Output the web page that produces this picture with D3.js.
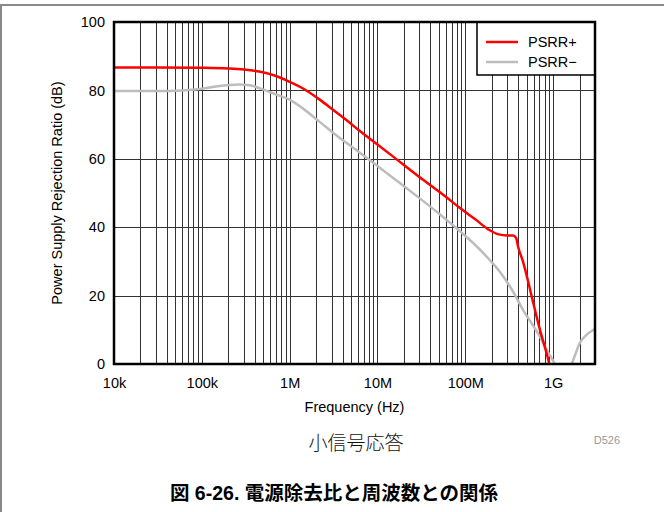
<!DOCTYPE html>
<html>
<head>
<meta charset="utf-8">
<script src="https://cdn.jsdelivr.net/npm/d3@7"></script>
<style>
  html, body { margin: 0; padding: 0; background: #fff; }
  svg { display: block; }
</style>
</head>
<body>
<svg id="chart" width="664" height="512"></svg>
<script>
// ---- data ----
const psrrPlusFreq = [1e4, 3e4, 1e5, 2e5, 3e5, 4.5e5, 7e5, 1e6, 1.5e6, 2.2e6, 3.2e6, 4.5e6, 6.3e6, 1e7, 1.8e7, 3e7, 6e7, 8.7e7, 1.3e8, 1.9e8, 2.4e8, 3e8, 3.5e8, 3.8e8, 4.0e8, 4.5e8, 5.85e8, 7e8, 9e8, 1e9];
const psrrPlusDb   = [86.7, 86.7, 86.6, 86.4, 86.1, 85.5, 84.2, 82.5, 80.2, 77.3, 74.1, 71.2, 68.1, 64.2, 59.1, 54.7, 48.9, 45.6, 42.3, 39.1, 37.9, 37.6, 37.6, 36.8, 34.2, 30.3, 18.6, 10.5, 0.3, -5];
const psrrMinusFreq = [1e4, 3e4, 6e4, 1e5, 1.5e5, 2.7e5, 3.5e5, 4.6e5, 7e5, 1e6, 1.3e6, 2.2e6, 3.2e6, 6.3e6, 1e7, 1.8e7, 2.65e7, 5e7, 8.7e7, 1.3e8, 1.9e8, 2.4e8, 3.2e8, 3.66e8, 4.5e8, 5.5e8, 6.9e8, 8.5e8, 1.03e9, 1.15e9, 1.3e9, 1.5e9, 1.66e9, 1.8e9, 2.0e9, 2.4e9, 2.8e9, 3e9];
const psrrMinusDb   = [79.8, 79.8, 80, 80.5, 81.2, 81.7, 81.5, 80.6, 78.8, 77.3, 75.4, 70.8, 67.4, 61.8, 57.9, 52.9, 49.6, 44, 38.8, 34.8, 30.4, 27.4, 22.8, 20.3, 16, 12.5, 8.5, 4, 0.3, -3, -5, -2, 0.5, 3, 6, 8.5, 9.8, 10.2];
const xTickValues = [1e4, 1e5, 1e6, 1e7, 1e8, 1e9];
const xTickLabels = ["10k", "100k", "1M", "10M", "100M", "1G"];
const yTickValues = [0, 20, 40, 60, 80, 100];
const seriesNames = ["PSRR+", "PSRR\u2212"];
const seriesColors = ["#ff0000", "#bdbdbd"];

// ---- layout ----
const svg = d3.select("#chart");
const L = 114, R = 595, T = 22, B = 364;
const x = d3.scaleLog().domain([1e4, 3e9]).range([L, R]);
const y = d3.scaleLinear().domain([0, 100]).range([B, T]);

// outer frame
svg.append("line").attr("x1", 0).attr("x2", 664).attr("y1", 5).attr("y2", 5)
  .attr("stroke", "#8a8a8a").attr("stroke-width", 2);
svg.append("line").attr("x1", 1).attr("x2", 1).attr("y1", 5).attr("y2", 512)
  .attr("stroke", "#8a8a8a").attr("stroke-width", 2);

// clip
svg.append("defs").append("clipPath").attr("id", "plotclip")
  .append("rect").attr("x", L).attr("y", T).attr("width", R - L).attr("height", B - T);

// vertical grid (log minor)
const minor = [];
for (let d = 1e4; d < 3e9; d *= 10) {
  for (let m = 1; m <= 9; m++) {
    const v = d * m;
    if (v > 1e4 && v < 3e9) minor.push(v);
  }
}
const grid = svg.append("g");
grid.selectAll("line.v").data(minor).join("line")
  .attr("class", "v")
  .attr("x1", d => Math.round(x(d)) + 0.5).attr("x2", d => Math.round(x(d)) + 0.5)
  .attr("y1", T).attr("y2", B)
  .attr("stroke", "#333").attr("stroke-width", 1);
grid.selectAll("line.h").data([20, 40, 60, 80]).join("line")
  .attr("class", "h")
  .attr("x1", L).attr("x2", R)
  .attr("y1", d => Math.round(y(d)) + 0.5).attr("y2", d => Math.round(y(d)) + 0.5)
  .attr("stroke", "#333").attr("stroke-width", 1);

// curves
const lineGen = d3.line().x(d => x(d[0])).y(d => y(d[1])).curve(d3.curveMonotoneX);
const series = [
  d3.zip(psrrMinusFreq, psrrMinusDb),
  d3.zip(psrrPlusFreq, psrrPlusDb)
];
const colorsDraw = [seriesColors[1], seriesColors[0]];
const curves = svg.append("g").attr("clip-path", "url(#plotclip)");
series.forEach((s, i) => {
  curves.append("path").datum(s).attr("d", lineGen)
    .attr("fill", "none").attr("stroke", colorsDraw[i]).attr("stroke-width", 2.5)
    .attr("stroke-linejoin", "round");
});

// legend
const lg = svg.append("g");
lg.append("rect").attr("x", 477).attr("y", T).attr("width", R - 477).attr("height", 53)
  .attr("fill", "#fff").attr("stroke", "#000").attr("stroke-width", 1.5);
seriesNames.forEach((n, i) => {
  const yy = 42 + i * 20;
  lg.append("line").attr("x1", 486).attr("x2", 518).attr("y1", yy).attr("y2", yy)
    .attr("stroke", seriesColors[i]).attr("stroke-width", 2.5);
  lg.append("text").attr("x", 528).attr("y", yy + 5).text(n)
    .attr("font-family", "Liberation Sans, Arial, sans-serif").attr("font-size", 14.5).attr("fill", "#000");
});

// plot frame
svg.append("rect").attr("x", L).attr("y", T).attr("width", R - L).attr("height", B - T)
  .attr("fill", "none").attr("stroke", "#000").attr("stroke-width", 2.5);

// axes
const xAxis = d3.axisBottom(x).tickValues(xTickValues)
  .tickFormat((d, i) => xTickLabels[i]).tickSize(0).tickPadding(14);
const gx = svg.append("g").attr("transform", `translate(0,${B})`).call(xAxis);
gx.select(".domain").remove();
gx.selectAll("text").attr("font-family", "Liberation Sans, Arial, sans-serif")
  .attr("font-size", 14.5).attr("fill", "#000");

const yAxis = d3.axisLeft(y).tickValues(yTickValues).tickSize(0).tickPadding(9);
const gy = svg.append("g").attr("transform", `translate(${L},0)`).call(yAxis);
gy.select(".domain").remove();
gy.selectAll("text").attr("font-family", "Liberation Sans, Arial, sans-serif")
  .attr("font-size", 14.5).attr("fill", "#000");

// axis titles
svg.append("text").attr("x", (L + R) / 2).attr("y", 412).attr("text-anchor", "middle")
  .attr("font-family", "Liberation Sans, Arial, sans-serif").attr("font-size", 14.5)
  .text("Frequency (Hz)");
svg.append("text").attr("transform", `translate(62,${(T + B) / 2}) rotate(-90)`)
  .attr("text-anchor", "middle")
  .attr("font-family", "Liberation Sans, Arial, sans-serif").attr("font-size", 14.5)
  .text("Power Supply Rejection Ratio (dB)");

svg.append("text").attr("x", 620).attr("y", 444).attr("text-anchor", "end")
  .attr("font-family", "Liberation Sans, Arial, sans-serif").attr("font-size", 11)
  .attr("fill", "#999").text("D526");

svg.append("text").attr("x", 356).attr("y", 450).attr("text-anchor", "middle")
  .attr("font-family", "Noto Sans CJK JP, sans-serif").attr("font-weight", 300).attr("font-size", 19)
  .attr("fill", "#111").text("小信号応答");

svg.append("text").attr("x", 334).attr("y", 500).attr("text-anchor", "middle")
  .attr("font-family", "Liberation Sans, Noto Sans CJK JP, sans-serif").attr("font-weight", "bold").attr("font-size", 19.5)
  .attr("fill", "#000").text("図 6-26. 電源除去比と周波数との関係");
</script>
</body>
</html>
